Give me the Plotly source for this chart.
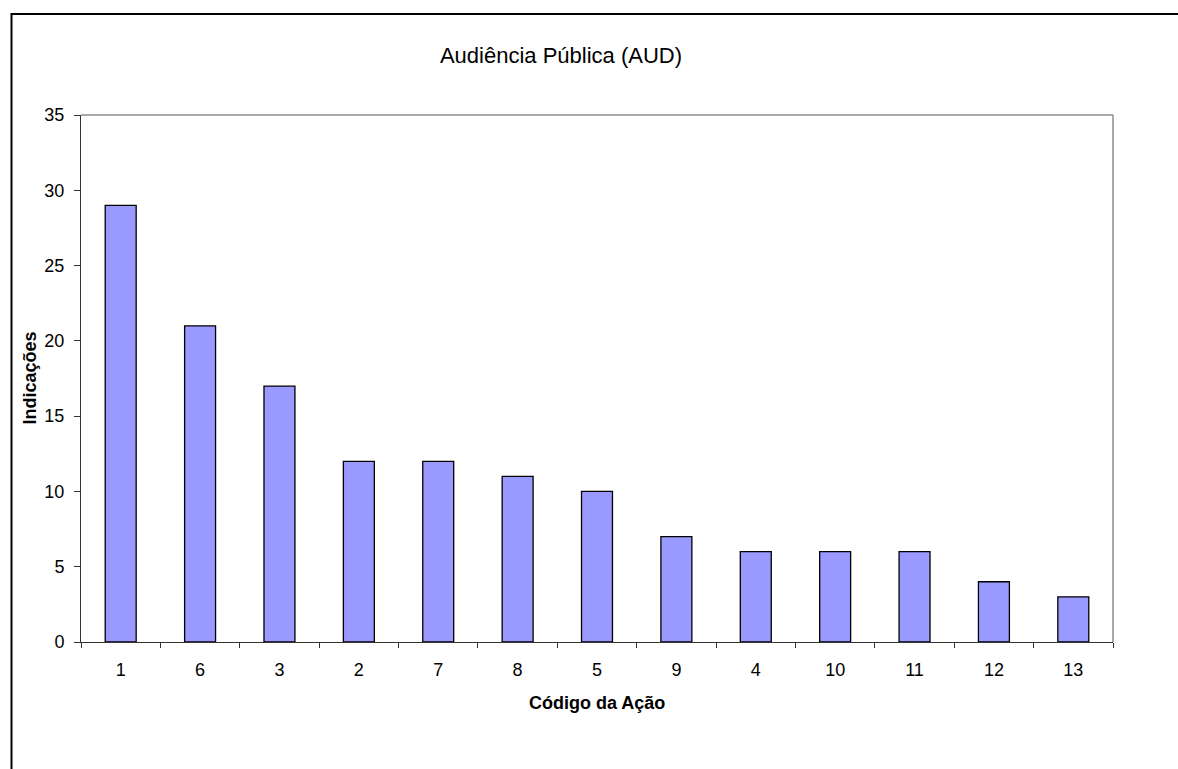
import plotly.graph_objects as go

# Ranking of actions by number of indications
codigos = ["1", "6", "3", "2", "7", "8", "5", "9", "4", "10", "11", "12", "13"]
indicacoes = [29, 21, 17, 12, 12, 11, 10, 7, 6, 6, 6, 4, 3]
y_ticks = [0, 5, 10, 15, 20, 25, 30, 35]

W, H = 1178, 769
L, R, T, B = 81, 1113, 115, 642  # plot area in pixels

def px_x(x):
    return (x - L) / (R - L)

def px_y(y):
    return (B - y) / (B - T)

font_family = "Liberation Sans, Arial, sans-serif"

fig = go.Figure(
    go.Bar(
        x=codigos,
        y=indicacoes,
        width=0.39,
        marker=dict(color="#9999FF", line=dict(color="black", width=1.3)),
    )
)

fig.update_layout(
    width=W,
    height=H,
    margin=dict(l=L, r=W - R, t=T, b=H - B),
    paper_bgcolor="white",
    plot_bgcolor="white",
    showlegend=False,
    font=dict(family=font_family, size=18, color="black"),
    title=dict(
        text="Audiência Pública (AUD)",
        x=px_x(561),
        xref="paper",
        xanchor="center",
        y=1 - 55 / H,
        yref="container",
        yanchor="middle",
        font=dict(size=22, family=font_family, color="black"),
    ),
    xaxis=dict(
        type="category",
        tickson="boundaries",
        ticks="outside",
        ticklen=5,
        tickcolor="#333333",
        showline=True,
        linecolor="#333333",
        linewidth=1,
        showgrid=False,
        zeroline=False,
        tickfont=dict(size=18),
        ticklabelstandoff=11,
    ),
    yaxis=dict(
        range=[0, 35],
        tickvals=y_ticks,
        ticks="outside",
        ticklen=6,
        tickcolor="#333333",
        showline=True,
        linecolor="#333333",
        linewidth=1,
        showgrid=False,
        zeroline=False,
        tickfont=dict(size=18),
        ticklabelstandoff=6,
    ),
    annotations=[
        dict(text="<b>Código da Ação</b>", xref="paper", yref="paper",
             x=0.5, y=px_y(703), xanchor="center", yanchor="middle",
             showarrow=False, font=dict(size=18)),
        dict(text="<b>Indicações</b>", xref="paper", yref="paper",
             x=px_x(29), y=0.5, xanchor="center", yanchor="middle",
             textangle=-90, showarrow=False, font=dict(size=18)),
    ],
    shapes=[
        # plot area frame (top and right edges)
        dict(type="line", xref="paper", yref="paper", x0=0, x1=1, y0=1, y1=1,
             line=dict(color="#8c8c8c", width=1.5)),
        dict(type="line", xref="paper", yref="paper", x0=1, x1=1, y0=0, y1=1,
             line=dict(color="#8c8c8c", width=1.5)),
        # chart border
        dict(type="rect", xref="paper", yref="paper",
             x0=px_x(11.5), x1=px_x(1190), y0=px_y(780), y1=px_y(14),
             line=dict(color="black", width=2), fillcolor="rgba(0,0,0,0)", layer="below"),
    ],
)

fig.write_html("out.html")
